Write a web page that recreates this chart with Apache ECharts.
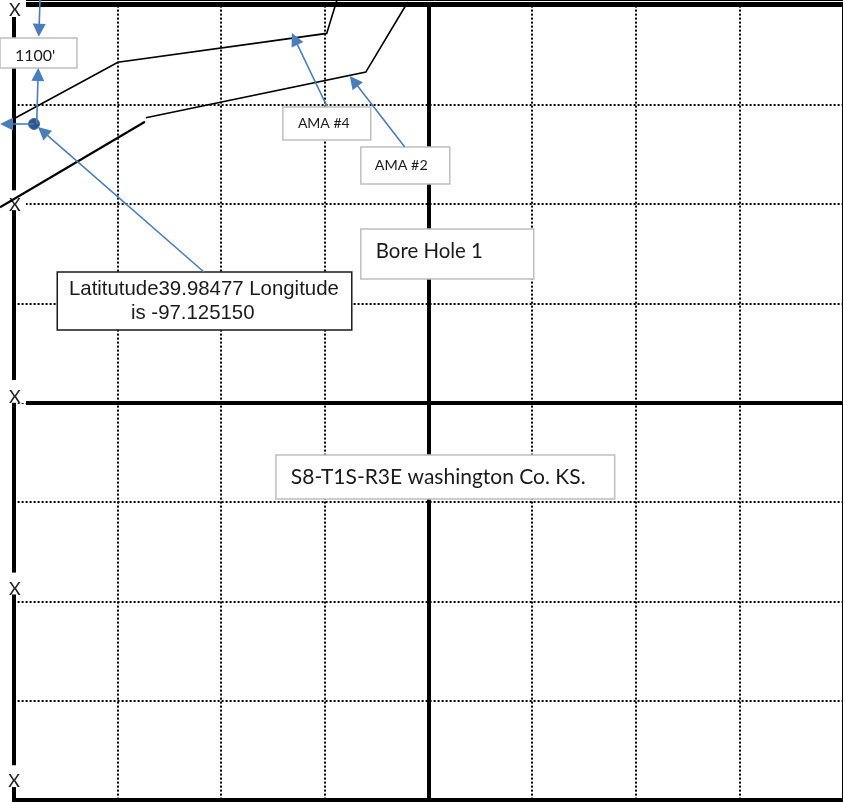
<!DOCTYPE html>
<html>
<head>
<meta charset="utf-8">
<style>html,body{margin:0;padding:0;background:#fff}#c{width:843px;height:804px}</style>
<script src="https://cdn.jsdelivr.net/npm/echarts@6/dist/echarts.min.js"></script>
</head>
<body>
<div id="c"></div>
<script>
// All values are in section-plat units: x 0..8 from the west line, y 0..8 from the south line.
const gridTicks = [0, 1, 2, 3, 4, 5, 6, 7, 8];

const ama4Line = [[-0.015, 6.85], [1.006, 7.43], [3.02, 7.72], [3.12, 8.06]];
const ama2LineWest = [[-0.131, 5.97], [1.267, 6.83]];
const ama2LineEast = [[1.276, 6.87], [3.397, 7.33], [3.802, 8.036]];

const northLine = [[[0.12, 8.01], [8, 8.01]]];
const heavyLines = [
  [[0.12, 4], [8, 4]],
  [[-0.015, 0], [8, 0]],
  [[4, 0], [4, 8]]
];
const thinBorder = [
  [[0.12, 8.053], [8, 8.053]],
  [[7.99, 0], [7.99, 8]]
];
const westFenceSegments = [
  [[0.004, 7.885], [0.004, 6.14]],
  [[0.004, 5.94], [0.004, 4.23]],
  [[0.004, 4.0], [0.004, 2.29]],
  [[0.004, 2.07], [0.004, 0.35]],
  [[0.004, 0.13], [0.004, -0.01]]
];
const fenceMarks = [
  [0.013, 7.956], [0.013, 5.992], [0.013, 4.058], [0.013, 2.125], [0.004, 0.191]
];

// each arrow runs from its tail to the centre of its head
const arrows = [
  [[0.2545, 8.056], [0.245, 7.752]],
  [[0.223, 6.808], [0.236, 7.306]],
  [[0.197, 6.808], [-0.068, 6.808]],
  [[1.836, 5.317], [0.282, 6.734]],
  [[3.021, 6.989], [2.711, 7.665]],
  [[3.773, 6.576], [3.281, 7.240]]
];
const boreHole = [[0.197, 6.808]];

// box corners: west, north, east, south
const greyBoxes = [
  [-0.131, 7.674, 0.611, 7.372],
  [2.597, 6.979, 3.445, 6.647],
  [3.349, 6.576, 4.207, 6.203],
  [3.349, 5.750, 5.017, 5.247],
  [2.53, 3.474, 5.798, 3.031]
];
const blackBoxes = [[0.421, 5.317, 3.262, 4.733]];

const calloutTexts = ["1100'", 'AMA #4', 'AMA #2', 'Bore Hole 1', 'S8-T1S-R3E washington Co. KS.',
  'Latitutude39.98477 Longitude', 'is -97.125150'];
const calloutAnchors = [
  [0.013, 7.492], [2.742, 6.808], [3.484, 6.395], [3.494, 5.529], [2.674, 3.253], [0.534, 5.146], [1.132, 4.904]
];
const calloutFontFamilies = ['Lato', 'Lato', 'Lato', 'Lato', 'Lato', 'Liberation Sans', 'Liberation Sans'];
const calloutFontSizes = [16, 14, 14.3, 20.4, 21, 20.4, 20.4];

const BLUE = '#4a7ebb';

function boxRender(borderColor) {
  return function (params, api) {
    const a = api.coord([api.value(0), api.value(1)]);
    const b = api.coord([api.value(2), api.value(3)]);
    return {
      type: 'rect',
      shape: { x: a[0], y: a[1], width: b[0] - a[0], height: b[1] - a[1] },
      style: { fill: '#fff', stroke: borderColor, lineWidth: 1.5 }
    };
  };
}

function polylines(list, width, z) {
  return {
    type: 'lines', coordinateSystem: 'cartesian2d', polyline: true, clip: false, silent: true, z,
    lineStyle: { color: '#000', width, opacity: 1 },
    data: list.map(coords => ({ coords }))
  };
}

function segments(list, width, z) {
  return {
    type: 'lines', coordinateSystem: 'cartesian2d', clip: false, silent: true, z,
    symbol: ['none', 'none'],
    lineStyle: { color: '#000', width, opacity: 1, curveness: 0 },
    data: list.map(coords => ({ coords }))
  };
}

const chart = echarts.init(document.getElementById('c'), null, { renderer: 'canvas' });
chart.setOption({
  animation: false,
  backgroundColor: '#fff',
  grid: { left: 13.6, top: 5.6, width: 829.84, height: 794.4, containLabel: false },
  xAxis: {
    type: 'value', min: gridTicks[0], max: gridTicks[gridTicks.length - 1], interval: 1,
    axisLine: { show: false }, axisTick: { show: false }, axisLabel: { show: false },
    splitLine: { show: true, showMinLine: false, showMaxLine: false, lineStyle: { color: '#000', width: 2, type: [2, 2] } }
  },
  yAxis: {
    type: 'value', min: gridTicks[0], max: gridTicks[gridTicks.length - 1], interval: 1,
    axisLine: { show: false }, axisTick: { show: false }, axisLabel: { show: false },
    splitLine: { show: true, showMinLine: false, showMaxLine: false, lineStyle: { color: '#000', width: 2, type: [2, 2] } }
  },
  series: [
    segments(northLine, 5, 2),
    segments(heavyLines, 4, 2),
    segments(thinBorder, 1, 2),
    {
      type: 'custom', coordinateSystem: 'cartesian2d', z: 3, silent: true, clip: false,
      data: fenceMarks,
      renderItem(params, api) {
        const p = api.coord([api.value(0), api.value(1)]);
        return {
          type: 'group',
          children: [
            { type: 'rect', shape: { x: p[0] - 15, y: p[1] - 9, width: 26, height: 15 }, style: { fill: '#fff' } },
            { type: 'text', style: { x: p[0], y: p[1], text: 'X', fontFamily: 'Lato', fontSize: 18, fill: '#222', textAlign: 'center', textVerticalAlign: 'middle' } }
          ]
        };
      }
    },
    segments(westFenceSegments, 4, 4),
    polylines([ama4Line, ama2LineEast], 1.6, 5),
    polylines([ama2LineWest], 2.2, 5),
    { type: 'custom', coordinateSystem: 'cartesian2d', z: 6, silent: true, clip: false, data: greyBoxes, renderItem: boxRender('#bfbfbf') },
    { type: 'custom', coordinateSystem: 'cartesian2d', z: 6, silent: true, clip: false, data: blackBoxes, renderItem: boxRender('#1a1a1a') },
    {
      type: 'custom', coordinateSystem: 'cartesian2d', z: 7, silent: true, clip: false,
      data: calloutAnchors,
      renderItem(params, api) {
        const p = api.coord([api.value(0), api.value(1)]);
        return {
          type: 'text',
          style: { x: p[0], y: p[1], text: calloutTexts[params.dataIndex], fontFamily: calloutFontFamilies[params.dataIndex], fontSize: calloutFontSizes[params.dataIndex], fill: '#1a1a1a', textAlign: 'left', textVerticalAlign: 'middle' }
        };
      }
    },
    {
      type: 'scatter', data: boreHole, symbol: 'circle', symbolSize: 11, z: 8, silent: true, clip: false,
      itemStyle: { color: '#2f5687', borderColor: '#3f6fa8', borderWidth: 1, opacity: 1 }
    },
    {
      type: 'lines', coordinateSystem: 'cartesian2d', clip: false, silent: true, z: 9,
      symbol: ['none', 'triangle'], symbolSize: 13,
      lineStyle: { color: BLUE, width: 1.6, opacity: 1, curveness: 0 },
      data: arrows.map(coords => ({ coords }))
    }
  ]
});
</script>
</body>
</html>
